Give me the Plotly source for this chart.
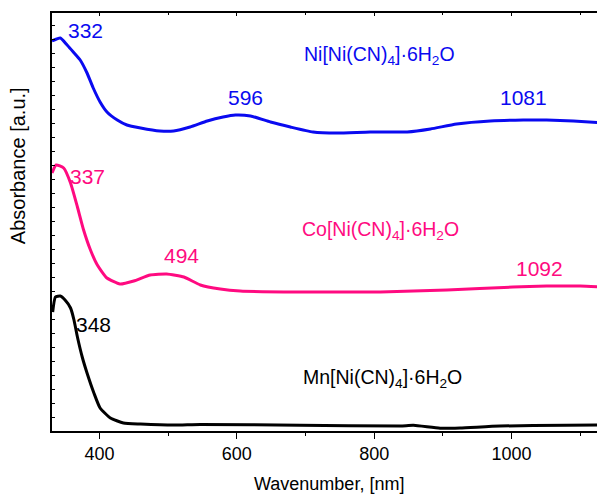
import plotly.graph_objects as go

# Wavelength (nm) and absorbance (a.u.)
ni_x = [331, 343, 353, 362, 372, 382, 391, 401, 411, 426, 440, 460, 488, 508, 532, 557, 580, 598,
        620, 649, 678, 711, 746, 794, 848, 882, 920, 969, 1017, 1051, 1090, 1136]
ni_y = [3.90, 3.93, 3.86, 3.79, 3.71, 3.58, 3.43, 3.29, 3.19, 3.11, 3.06, 3.03, 3.00, 3.00, 3.04,
        3.10, 3.14, 3.16, 3.15, 3.09, 3.04, 2.99, 2.98, 2.99, 2.99, 3.02, 3.07, 3.10, 3.11, 3.11,
        3.10, 3.08]

co_x = [331, 337, 348, 358, 368, 377, 387, 397, 411, 430, 450, 474, 498, 523, 547, 576, 605,
        688, 809, 906, 1002, 1051, 1100, 1136]
co_y = [2.58, 2.66, 2.63, 2.48, 2.24, 2.01, 1.81, 1.66, 1.53, 1.47, 1.50, 1.56, 1.57, 1.54, 1.46,
        1.42, 1.40, 1.39, 1.39, 1.41, 1.44, 1.45, 1.45, 1.44]

mn_x = [332, 336, 343, 350, 358, 363, 368, 375, 382, 392, 401, 416, 435, 460, 508, 547, 692,
        838, 857, 896, 925, 983, 1080, 1136]
mn_y = [1.19, 1.34, 1.35, 1.31, 1.23, 1.11, 0.94, 0.74, 0.58, 0.38, 0.23, 0.13, 0.08, 0.07,
        0.06, 0.066, 0.057, 0.05, 0.057, 0.027, 0.03, 0.05, 0.057, 0.06]

x_ticks = [400, 600, 800, 1000]
x_range = [331, 1136]
y_range = [0, 4.18]

BLUE = "#0a0af0"
PINK = "#ff0a80"
BLACK = "#000000"
FONT = "Liberation Sans, Arial, sans-serif"

fig = go.Figure()
for xs, ys, col in [(ni_x, ni_y, BLUE), (co_x, co_y, PINK), (mn_x, mn_y, BLACK)]:
    fig.add_trace(go.Scatter(x=xs, y=ys, mode="lines",
                             line=dict(color=col, width=3, shape="spline", smoothing=0.5),
                             showlegend=False, hoverinfo="skip"))

# peak labels and compound names
labels = [
    ("332", 380, 4.01, BLUE, "center", 21),
    ("596", 612, 3.34, BLUE, "center", 21),
    ("1081", 1018, 3.34, BLUE, "center", 21),
    ("Ni[Ni(CN)<sub>4</sub>]·6H<sub>2</sub>O", 695, 3.76, BLUE, "left", 19.5),
    ("337", 383, 2.55, PINK, "center", 21),
    ("494", 519, 1.76, PINK, "center", 21),
    ("1092", 1041, 1.63, PINK, "center", 21),
    ("Co[Ni(CN)<sub>4</sub>]·6H<sub>2</sub>O", 692, 2.01, PINK, "left", 19.5),
    ("348", 391, 1.07, BLACK, "center", 21),
    ("Mn[Ni(CN)<sub>4</sub>]·6H<sub>2</sub>O", 694, 0.53, BLACK, "left", 19.5),
]
for txt, x, y, col, anc, sz in labels:
    fig.add_annotation(x=x, y=y, text=txt, showarrow=False, xanchor=anc, yanchor="middle",
                       font=dict(family=FONT, size=sz, color=col))

# axis titles
fig.add_annotation(xref="paper", yref="paper", x=-0.0615, y=0.636, text="Absorbance [a.u.]",
                   textangle=-90, showarrow=False, xanchor="center", yanchor="middle",
                   font=dict(family=FONT, size=20, color="black"))
fig.add_annotation(xref="paper", yref="paper", x=0.5, y=-0.127, text="Wavenumber, [nm]",
                   showarrow=False, xanchor="center", yanchor="middle",
                   font=dict(family=FONT, size=18, color="black"))

# the page body adds an 8px offset, so the figure is shrunk and shifted to compensate
fig.update_layout(
    width=597, height=489,
    margin=dict(l=44, r=0, t=5, b=66),
    plot_bgcolor="white", paper_bgcolor="white",
    font=dict(family=FONT, size=18, color="black"),
    xaxis=dict(range=x_range, tickvals=x_ticks, ticks="outside", ticklen=6, tickwidth=1.3,
               tickcolor="black", showline=True, linecolor="black", linewidth=1.5,
               showgrid=False, zeroline=False,
               minor=dict(dtick=100, tick0=300, ticks="outside", ticklen=3, tickcolor="black",
                          showgrid=False),
               tickfont=dict(family=FONT, size=18)),
    xaxis2=dict(range=x_range, overlaying="x", side="top", tickvals=x_ticks, ticks="inside",
                ticklen=3, tickcolor="black", showticklabels=False, showline=True,
                linecolor="black", linewidth=1.5, showgrid=False, zeroline=False,
                minor=dict(dtick=100, tick0=300, ticks="inside", ticklen=2, tickcolor="black")),
    yaxis=dict(range=y_range, dtick=0.14, tick0=0, ticks="inside", ticklen=3, tickcolor="black",
               showticklabels=False, showline=True, linecolor="black", linewidth=1.5,
               showgrid=False, zeroline=False),
)
fig.add_trace(go.Scatter(x=[None], y=[None], xaxis="x2", showlegend=False, hoverinfo="skip"))

fig.write_html("out.html")
